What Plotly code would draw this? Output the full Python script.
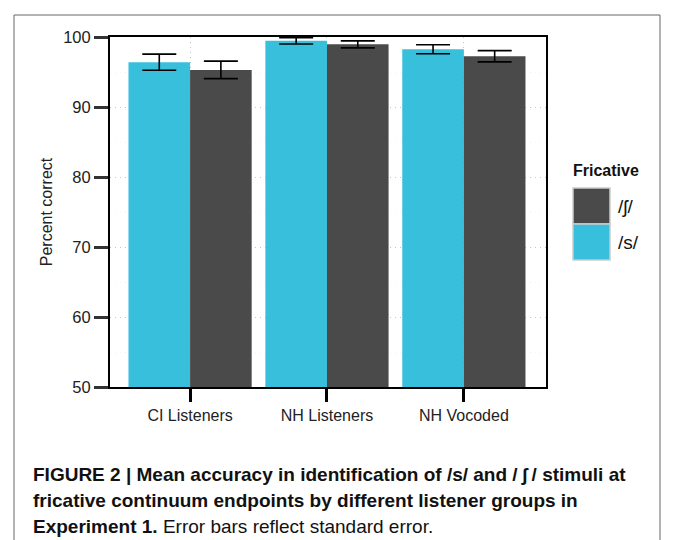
import plotly.graph_objects as go

groups = ["CI Listeners", "NH Listeners", "NH Vocoded"]
s_mean = [96.4, 99.45, 98.25]
s_se = [1.15, 0.45, 0.65]
sh_mean = [95.3, 98.95, 97.25]
sh_se = [1.25, 0.5, 0.8]
fricative_labels = ["/s/", "/ʃ/"]
y_ticks = [50, 60, 70, 80, 90, 100]

BLUE = "#37bfdc"
DARK = "#4a4a4a"

W, H = 673, 540
L, R, T, B = 110, 546, 37, 387


def px_x(x):
    return (x - L) / (R - L)


def px_y(y):
    return (B - y) / (B - T)


fig = go.Figure()
fig.add_trace(go.Bar(
    x=groups, y=s_mean, name=fricative_labels[0], marker_color=BLUE,
    marker_line_width=0,
    error_y=dict(type="data", array=s_se, color="black", thickness=1.6, width=17),
))
fig.add_trace(go.Bar(
    x=groups, y=sh_mean, name=fricative_labels[1], marker_color=DARK,
    marker_line_width=0,
    error_y=dict(type="data", array=sh_se, color="black", thickness=1.6, width=17),
))

shapes = [
    # outer figure frame
    dict(type="rect", xref="paper", yref="paper",
         x0=px_x(14), x1=px_x(660), y0=px_y(600), y1=px_y(15),
         line=dict(color="#666666", width=1), layer="below"),
    # legend keys
    dict(type="rect", xref="paper", yref="paper",
         x0=px_x(573), x1=px_x(610), y0=px_y(224), y1=px_y(188),
         fillcolor=DARK, line=dict(color="#cccccc", width=1.5)),
    dict(type="rect", xref="paper", yref="paper",
         x0=px_x(573), x1=px_x(610), y0=px_y(260), y1=px_y(224),
         fillcolor=BLUE, line=dict(color="#cccccc", width=1.5)),
]

annotations = [
    dict(text="<b>Fricative</b>", x=px_x(571), y=px_y(170), xref="paper", yref="paper",
         xanchor="left", yanchor="middle", showarrow=False,
         font=dict(family="Liberation Sans, Arial", size=16, color="#111")),
    dict(text=fricative_labels[1], x=px_x(616), y=px_y(206), xref="paper", yref="paper",
         xanchor="left", yanchor="middle", showarrow=False,
         font=dict(family="Liberation Sans, Arial", size=19, color="#111")),
    dict(text=fricative_labels[0], x=px_x(616), y=px_y(243), xref="paper", yref="paper",
         xanchor="left", yanchor="middle", showarrow=False,
         font=dict(family="Liberation Sans, Arial", size=19, color="#111")),
]

caption_lines = [
    "<b>FIGURE 2 | Mean accuracy in identification of /s/ and /\u2009ʃ\u2009/ stimuli at</b>",
    "<b>fricative continuum endpoints by different listener groups in</b>",
    "<b>Experiment 1.</b> Error bars reflect standard error.",
]
for i, line in enumerate(caption_lines):
    annotations.append(dict(
        text=line, x=px_x(31), y=px_y(474 + 26 * i), xref="paper", yref="paper",
        xanchor="left", yanchor="middle", showarrow=False,
        font=dict(family="Liberation Sans, Arial", size=19, color="#111"),
    ))

fig.update_layout(
    width=W, height=H,
    margin=dict(l=L, r=W - R, t=T, b=H - B),
    paper_bgcolor="white", plot_bgcolor="white",
    barmode="group", bargap=0.1, bargroupgap=0,
    showlegend=False,
    shapes=shapes, annotations=annotations,
    font=dict(family="Liberation Sans, Arial", size=15, color="#222"),
    xaxis=dict(
        range=[-0.585, 2.6], showline=True, linecolor="black", linewidth=2, mirror=True,
        ticks="outside", ticklen=13, tickwidth=2.5, tickcolor="black",
        showgrid=True, gridcolor="#c4c4c4", griddash="1px,4px", gridwidth=1,
        tickfont=dict(size=16, color="#222"),
    ),
    yaxis=dict(
        range=[50, 100], tickvals=y_ticks, showline=True, linecolor="black", linewidth=2,
        mirror=True, ticks="outside", ticklen=14, tickwidth=2.5, tickcolor="#333",
        showgrid=True, gridcolor="#c4c4c4", griddash="1px,4px", gridwidth=1,
        minor=dict(dtick=5, showgrid=True, gridcolor="#f3f3f3", gridwidth=1),
        zeroline=False,
        title=dict(text="Percent correct", font=dict(size=16, color="#222"), standoff=7),
        tickfont=dict(size=16.5, color="#222"),
    ),
)

fig.write_html("out.html")
